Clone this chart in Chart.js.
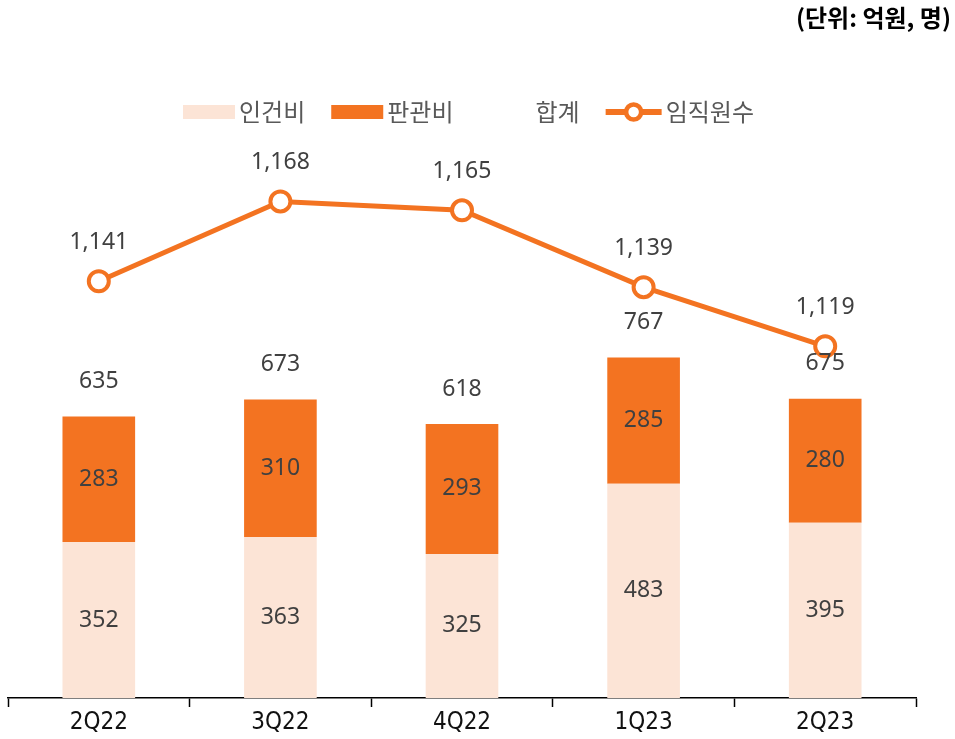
<!DOCTYPE html>
<html>
<head>
<meta charset="utf-8">
<script src="https://cdn.jsdelivr.net/npm/chart.js@4"></script>
<style>
  body { margin: 0; background: #fff; }
  #wrap { width: 955px; height: 739px; position: relative; }
</style>
</head>
<body>
<div id="wrap"><canvas id="MixChart"></canvas></div>
<script>
const quarters = ['2Q22', '3Q22', '4Q22', '1Q23', '2Q23'];
const laborCost = [352, 363, 325, 483, 395];
const sgaCost = [283, 310, 293, 285, 280];
const totalCost = [635, 673, 618, 767, 675];
const employees = [1141, 1168, 1165, 1139, 1119];

const peach = '#FCE4D6';
const orange = '#F37321';
const labelColor = '#404040';
const numFont = "'Noto Sans', 'Open Sans', sans-serif";
const krFont = "'Noto Sans CJK KR', 'Noto Sans', sans-serif";

// value labels, legend row and unit note
const overlay = {
    id: 'overlay',
    afterDatasetsDraw(chart) {
        const ctx = chart.ctx;
        ctx.save();
        ctx.fillStyle = labelColor;
        ctx.textAlign = 'center';
        ctx.textBaseline = 'middle';
        ctx.font = '23px ' + numFont;
        [0, 1].forEach(di => {
            chart.getDatasetMeta(di).data.forEach((el, i) => {
                const v = chart.data.datasets[di].data[i];
                ctx.fillText(v, el.x, (el.y + el.base) / 2);
            });
        });
        const yBar = chart.scales.yBar;
        chart.getDatasetMeta(0).data.forEach((el, i) => {
            ctx.fillText(totalCost[i], el.x, yBar.getPixelForValue(totalCost[i]) - 35);
        });
        chart.getDatasetMeta(3).data.forEach((el, i) => {
            ctx.fillText(employees[i].toLocaleString('en-US'), el.x, el.y - 39);
        });

        // legend
        const ly = 112;
        let lx = 183;
        ctx.font = '24px ' + krFont;
        ctx.textAlign = 'left';
        chart.data.datasets.forEach(ds => {
            if (ds.type === 'bar') {
                ctx.fillStyle = ds.backgroundColor;
                ctx.fillRect(lx, ly - 7, 52, 14);
            } else if (ds.showLine !== false) {
                ctx.strokeStyle = ds.borderColor;
                ctx.lineWidth = 6;
                ctx.beginPath();
                ctx.moveTo(lx, ly); ctx.lineTo(lx + 56, ly);
                ctx.stroke();
                ctx.beginPath();
                ctx.arc(lx + 28, ly, 7.5, 0, Math.PI * 2);
                ctx.fillStyle = '#fff';
                ctx.fill();
                ctx.lineWidth = 4.5;
                ctx.stroke();
            }
            const tx = lx + (ds.showLine !== false && ds.type === 'line' ? 60 : 56);
            ctx.fillStyle = '#595959';
            ctx.fillText(ds.label, tx, ly);
            lx = tx + ctx.measureText(ds.label).width + 26;
        });

        // unit
        ctx.textAlign = 'right';
        ctx.fillStyle = '#000';
        ctx.font = 'bold 24px ' + krFont;
        ctx.fillText('(단위: 억원, 명)', chart.width - 4, 18);
        ctx.restore();
    }
};

const data = {
    labels: quarters,
    datasets: [
        {
            type: 'bar',
            label: '인건비',
            data: laborCost,
            backgroundColor: peach,
            yAxisID: 'yBar',
            stack: 'cost',
            barPercentage: 0.4,
            categoryPercentage: 1,
        },
        {
            type: 'bar',
            label: '판관비',
            data: sgaCost,
            backgroundColor: orange,
            yAxisID: 'yBar',
            stack: 'cost',
            barPercentage: 0.4,
            categoryPercentage: 1,
        },
        {
            type: 'line',
            label: '합계',
            data: totalCost,
            showLine: false,
            pointRadius: 0,
            yAxisID: 'yBar',
            stack: 'total',
        },
        {
            type: 'line',
            label: '임직원수',
            data: employees,
            borderColor: orange,
            borderWidth: 5,
            pointRadius: 10,
            pointBorderWidth: 4,
            pointBackgroundColor: '#fff',
            pointBorderColor: orange,
            yAxisID: 'yLine',
        },
    ]
};

const config = {
    data: data,
    plugins: [overlay],
    options: {
        responsive: true,
        maintainAspectRatio: false,
        animation: false,
        layout: {
            autoPadding: false,
            padding: { top: 150, left: 8, right: 39, bottom: 0 },
        },
        plugins: {
            tooltip: { enabled: false },
            legend: { display: false },
        },
        scales: {
            x: {
                offset: true,
                grid: {
                    offset: true,
                    drawOnChartArea: false,
                    tickLength: 9,
                    tickColor: '#000',
                    tickWidth: 1.5,
                },
                border: { color: '#000', width: 1.5 },
                ticks: {
                    color: '#111',
                    padding: 4,
                    font: { family: "'DejaVu Sans Condensed', 'Liberation Sans Narrow', sans-serif", size: 24, lineHeight: 1.0 },
                },
            },
            yBar: {
                display: false,
                stacked: true,
                min: 0,
                max: 1236,
            },
            yLine: {
                display: false,
                min: 1000,
                max: 1185.4,
            },
        },
    }
};

const MixChart = new Chart(document.getElementById('MixChart'), config);
</script>
</body>
</html>
